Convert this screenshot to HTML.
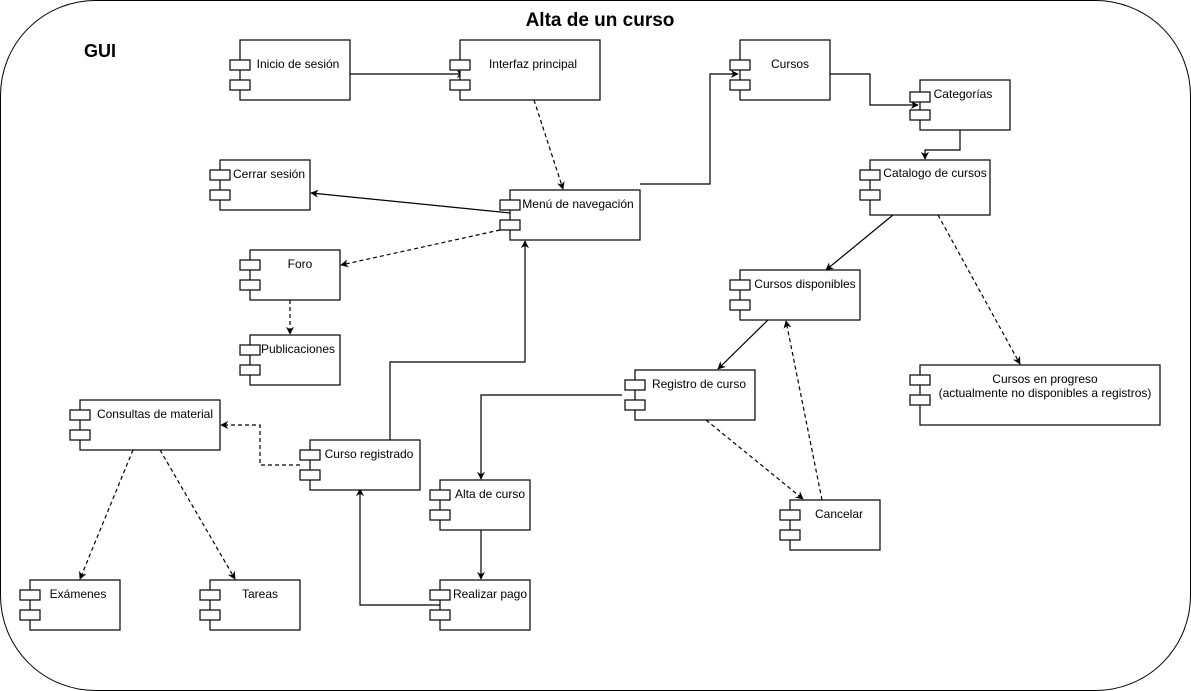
<!DOCTYPE html>
<html><head><meta charset="utf-8"><style>
html,body{margin:0;padding:0;background:#fff;}
svg{display:block;font-family:"Liberation Sans",Arial,sans-serif;}
</style></head><body>
<svg width="1191" height="691" viewBox="0 0 1191 691" xmlns="http://www.w3.org/2000/svg">
<defs>
<marker id="a" viewBox="0 0 10 10" refX="9" refY="5" markerWidth="8" markerHeight="8" orient="auto" markerUnits="userSpaceOnUse">
<path d="M0,0 L10,5 L0,10 L3,5 Z" fill="#000"/></marker>
</defs>
<rect x="0.5" y="0.5" width="1190" height="690" rx="95" ry="95" fill="#fff" stroke="#000" stroke-width="1"/>
<text x="600" y="26" text-anchor="middle" font-size="19" font-weight="bold">Alta de un curso</text>
<text x="100" y="57" text-anchor="middle" font-size="18" font-weight="bold">GUI</text>

<g fill="none" stroke="#000" stroke-width="1.2">
<path d="M350,74 H464" marker-end="url(#a)"/>
<path d="M534,100 L563,189" stroke-dasharray="4,3" marker-end="url(#a)"/>
<path d="M510,213 L311,193" marker-end="url(#a)"/>
<path d="M500,230 L341,265" stroke-dasharray="4,3" marker-end="url(#a)"/>
<path d="M640,184 H710 V74 H738" marker-end="url(#a)"/>
<path d="M830,74 H870 V105 H918" marker-end="url(#a)"/>
<path d="M960,130 V150 H925 V159" marker-end="url(#a)"/>
<path d="M893,215 L826,270" marker-end="url(#a)"/>
<path d="M938,215 L1020,364" stroke-dasharray="4,3" marker-end="url(#a)"/>
<path d="M290,300 V334" stroke-dasharray="4,3" marker-end="url(#a)"/>
<path d="M768,320 L718,369" marker-end="url(#a)"/>
<path d="M706,420 L803,499" stroke-dasharray="4,3" marker-end="url(#a)"/>
<path d="M822,500 L786,321" stroke-dasharray="4,3" marker-end="url(#a)"/>
<path d="M622,395 H481 V479" marker-end="url(#a)"/>
<path d="M481,530 V579" marker-end="url(#a)"/>
<path d="M440,605 H360 V489" marker-end="url(#a)"/>
<path d="M390,440 V362 H525 V241" marker-end="url(#a)"/>
<path d="M300,465 H260 V425 H221" stroke-dasharray="4,3" marker-end="url(#a)"/>
<path d="M133,450 L80,579" stroke-dasharray="4,3" marker-end="url(#a)"/>
<path d="M160,450 L235,579" stroke-dasharray="4,3" marker-end="url(#a)"/>
</g>

<g fill="#fff" stroke="#000" stroke-width="1.2" font-size="12">
<!-- component template: main rect + tabs -->
<g><rect x="240" y="40" width="110" height="60"/><rect x="230" y="60" width="20" height="10"/><rect x="230" y="80" width="20" height="10"/></g>
<g><rect x="460" y="40" width="140" height="60"/><rect x="450" y="60" width="20" height="10"/><rect x="450" y="80" width="20" height="10"/></g>
<g><rect x="740" y="40" width="90" height="60"/><rect x="730" y="60" width="20" height="10"/><rect x="730" y="80" width="20" height="10"/></g>
<g><rect x="920" y="80" width="90" height="50"/><rect x="910" y="92" width="20" height="10"/><rect x="910" y="110" width="20" height="10"/></g>
<g><rect x="220" y="160" width="90" height="50"/><rect x="210" y="170" width="20" height="10"/><rect x="210" y="190" width="20" height="10"/></g>
<g><rect x="510" y="190" width="130" height="50"/><rect x="500" y="200" width="20" height="10"/><rect x="500" y="220" width="20" height="10"/></g>
<g><rect x="870" y="160" width="120" height="55"/><rect x="860" y="170" width="20" height="10"/><rect x="860" y="190" width="20" height="10"/></g>
<g><rect x="250" y="250" width="90" height="50"/><rect x="240" y="260" width="20" height="10"/><rect x="240" y="280" width="20" height="10"/></g>
<g><rect x="740" y="270" width="120" height="50"/><rect x="730" y="280" width="20" height="10"/><rect x="730" y="300" width="20" height="10"/></g>
<g><rect x="250" y="335" width="90" height="50"/><rect x="240" y="345" width="20" height="10"/><rect x="240" y="365" width="20" height="10"/></g>
<g><rect x="635" y="370" width="120" height="50"/><rect x="625" y="380" width="20" height="10"/><rect x="625" y="400" width="20" height="10"/></g>
<g><rect x="920" y="365" width="240" height="60"/><rect x="910" y="375" width="20" height="10"/><rect x="910" y="395" width="20" height="10"/></g>
<g><rect x="80" y="400" width="140" height="50"/><rect x="70" y="410" width="20" height="10"/><rect x="70" y="430" width="20" height="10"/></g>
<g><rect x="310" y="440" width="110" height="50"/><rect x="300" y="450" width="20" height="10"/><rect x="300" y="470" width="20" height="10"/></g>
<g><rect x="440" y="480" width="90" height="50"/><rect x="430" y="490" width="20" height="10"/><rect x="430" y="510" width="20" height="10"/></g>
<g><rect x="790" y="500" width="90" height="50"/><rect x="780" y="510" width="20" height="10"/><rect x="780" y="530" width="20" height="10"/></g>
<g><rect x="30" y="580" width="90" height="50"/><rect x="20" y="590" width="20" height="10"/><rect x="20" y="610" width="20" height="10"/></g>
<g><rect x="210" y="580" width="90" height="50"/><rect x="200" y="590" width="20" height="10"/><rect x="200" y="610" width="20" height="10"/></g>
<g><rect x="440" y="580" width="90" height="50"/><rect x="430" y="590" width="20" height="10"/><rect x="430" y="610" width="20" height="10"/></g>
</g>

<g font-size="12" fill="#000" text-anchor="middle">
<text x="298" y="68">Inicio de sesión</text>
<text x="533" y="68">Interfaz principal</text>
<text x="790" y="68">Cursos</text>
<text x="963" y="98">Categorías</text>
<text x="269" y="178">Cerrar sesión</text>
<text x="578" y="208">Menú de navegación</text>
<text x="935" y="177">Catalogo de cursos</text>
<text x="300" y="268">Foro</text>
<text x="805" y="288">Cursos disponibles</text>
<text x="298" y="353">Publicaciones</text>
<text x="699" y="388">Registro de curso</text>
<text x="1045" y="383">Cursos en progreso</text>
<text x="1045" y="397">(actualmente no disponibles a registros)</text>
<text x="155" y="418">Consultas de material</text>
<text x="369" y="458">Curso registrado</text>
<text x="490" y="498">Alta de curso</text>
<text x="839" y="518">Cancelar</text>
<text x="78" y="598">Exámenes</text>
<text x="260" y="598">Tareas</text>
<text x="490" y="598">Realizar pago</text>
</g>
</svg>
</body></html>
